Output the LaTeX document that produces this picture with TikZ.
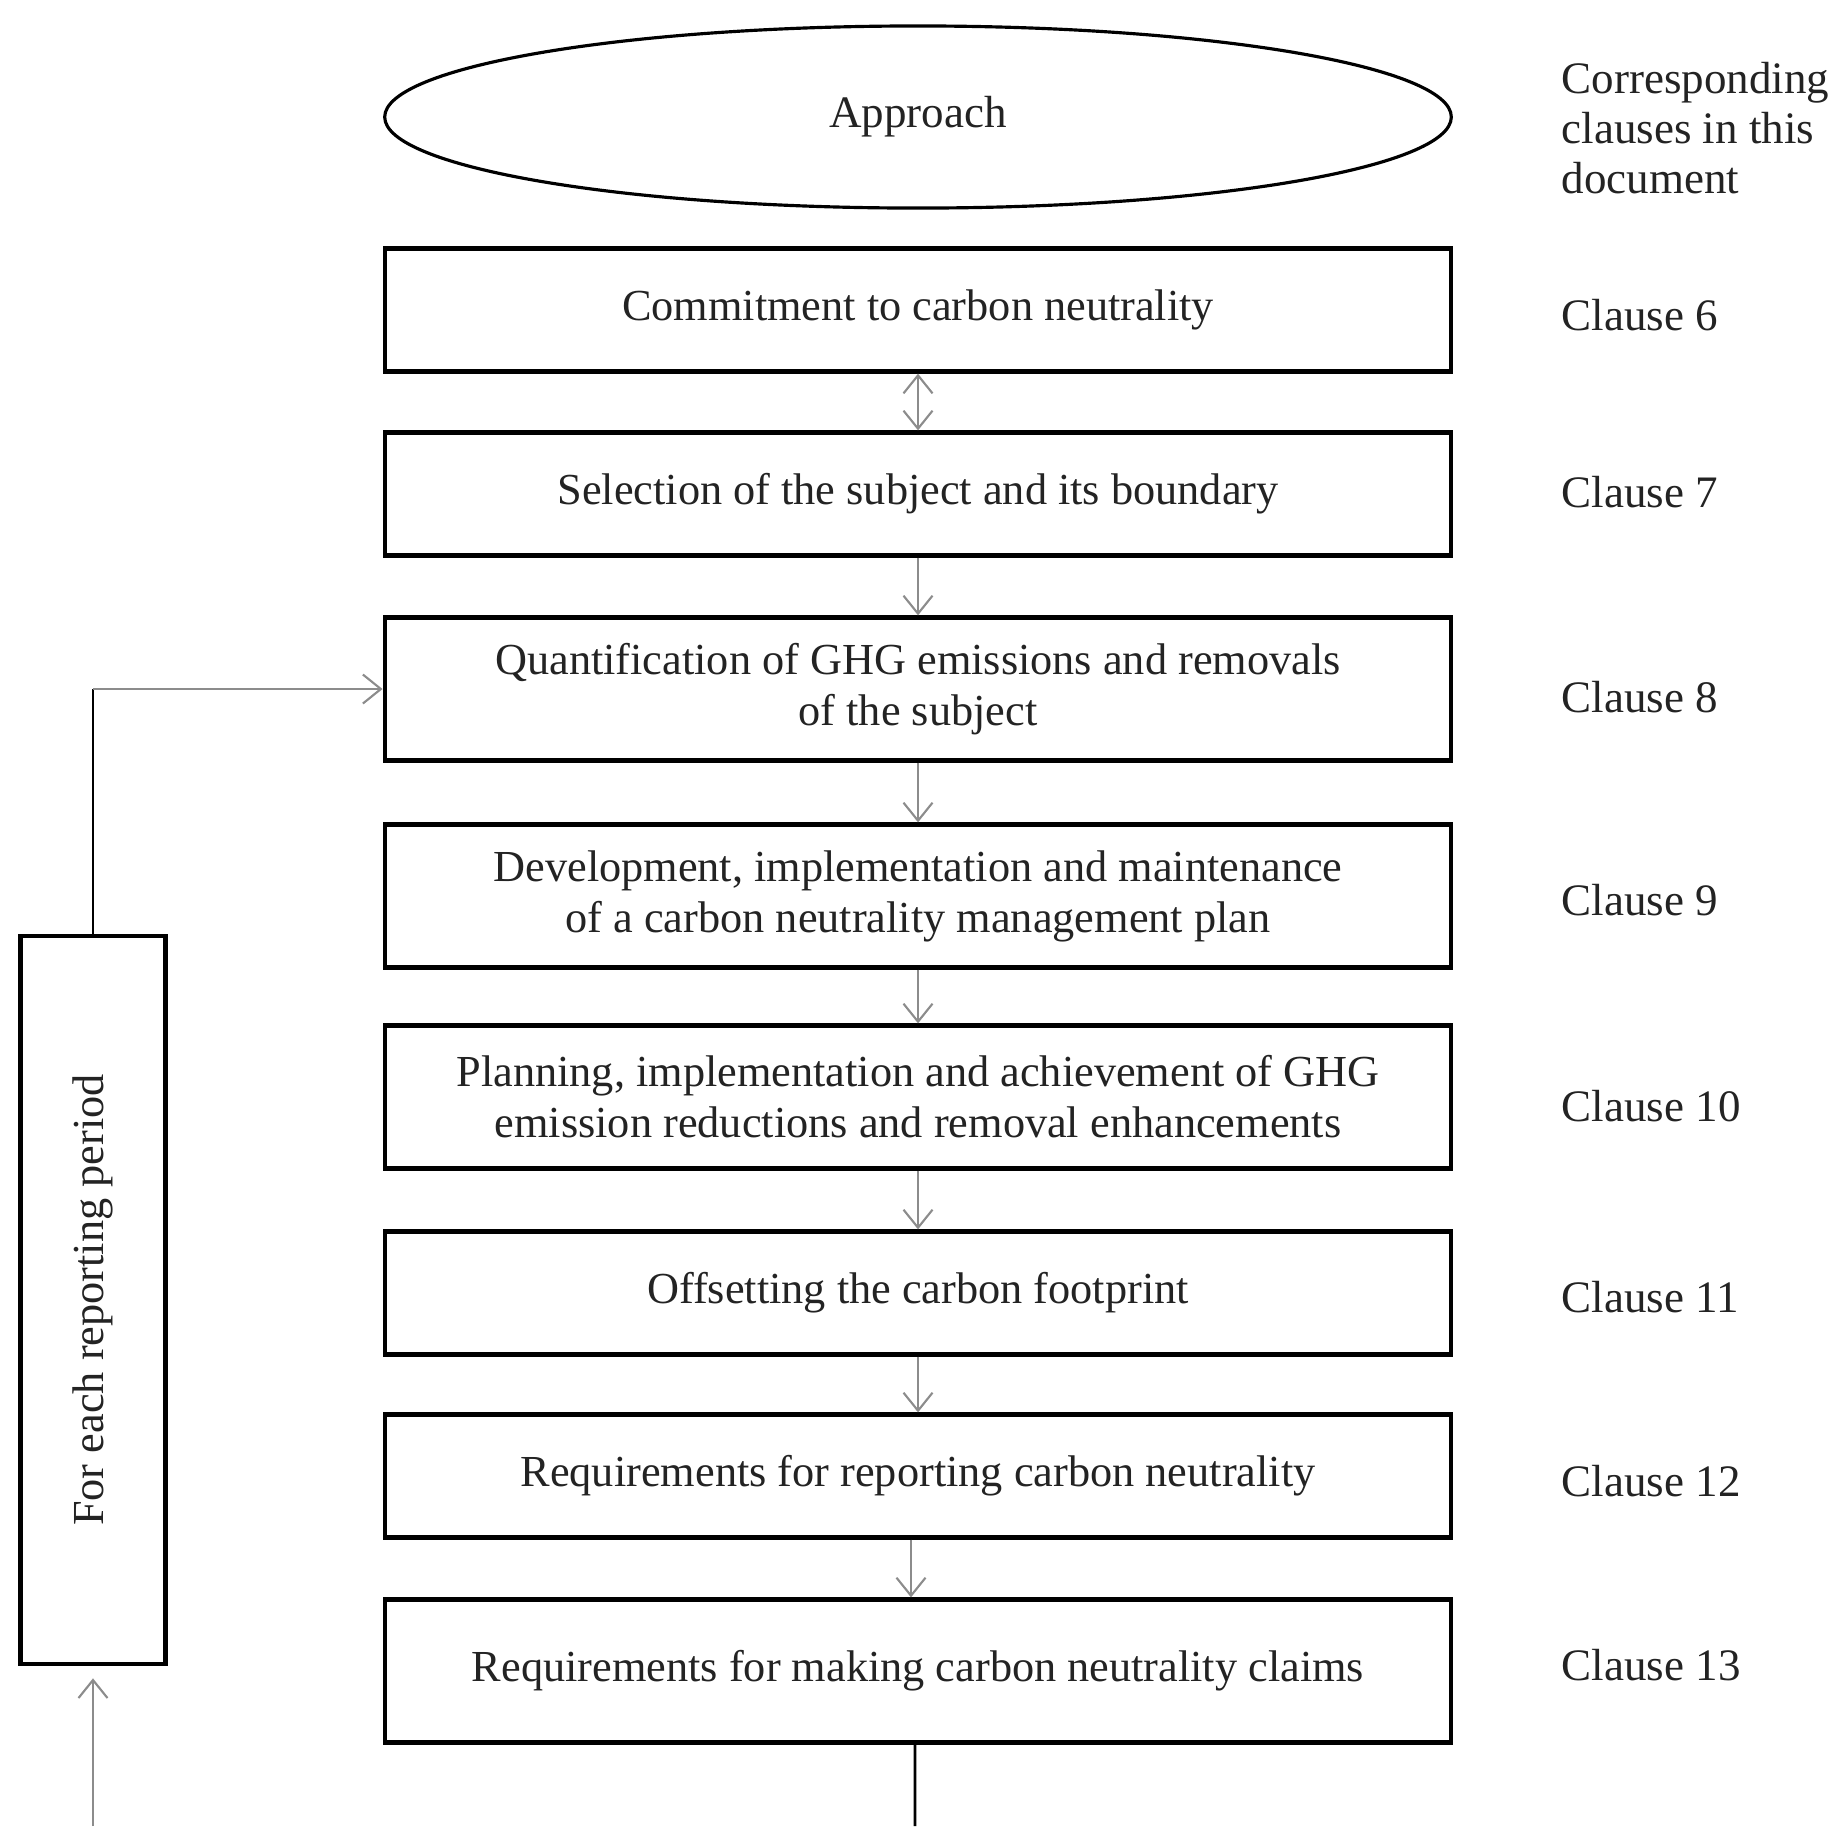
\documentclass[tikz,border=0pt]{standalone}
\usepackage{fontspec}
\setmainfont{Liberation Serif}
\usepackage{tikz}
\usetikzlibrary{shapes,arrows.meta,positioning,calc}
\usepackage{xcolor}
\definecolor{linegray}{RGB}{140,140,140}
\definecolor{textdark}{RGB}{35,35,35}

\begin{document}
\begin{tikzpicture}[
    x=0.01cm, y=-0.01cm,
    oval/.style={ellipse, draw=black, line width=0.9pt, inner sep=0pt,
                 minimum width=10.66cm, minimum height=1.82cm,
                 font=\fontsize{12.8}{14.3}\selectfont, text=textdark},
    stage/.style={rectangle, draw=black, line width=1.2pt, fill=white,
                  minimum width=10.66cm, minimum height=1.23cm, align=center,
                  font=\fontsize{12.6}{14.5}\selectfont, text=textdark},
    tall/.style={minimum height=1.43cm},
    clause/.style={anchor=west, align=left, inner sep=0pt,
                   font=\fontsize{12.8}{14.3}\selectfont, text=textdark},
    arr/.style={-{Straight Barb[length=1.8mm, width=2.9mm]}, linegray, line width=0.6pt},
    biarr/.style={arr, {Straight Barb[length=1.8mm, width=2.9mm]}-{Straight Barb[length=1.8mm, width=2.9mm]}},
    link/.style={black, line width=0.8pt}
]
    \useasboundingbox (0,0) rectangle (1831,1826);

    % main column
    \node[oval] (appr) at (918,117) {Approach};
    \node[stage] (b1) at (918,310) {Commitment to carbon neutrality};
    \node[stage] (b2) at (918,494) {Selection of the subject and its boundary};
    \node[stage, tall] (b3) at (918,689) {Quantification of GHG emissions and removals\\ of the subject};
    \node[stage, tall] (b4) at (918,896) {Development, implementation and maintenance\\ of a carbon neutrality management plan};
    \node[stage, tall] (b5) at (918,1097) {Planning, implementation and achievement of GHG\\ emission reductions and removal enhancements};
    \node[stage] (b6) at (918,1293) {Offsetting the carbon footprint};
    \node[stage] (b7) at (918,1476) {Requirements for reporting carbon neutrality};
    \node[stage, tall] (b8) at (918,1671) {Requirements for making carbon neutrality claims};

    % clause column
    \node[clause] (hdr) at (1561,128) {Corresponding\\ clauses in this\\ document};
    \node[clause] (c6) at (1561,315) {Clause 6};
    \node[clause] (c7) at (1561,492) {Clause 7};
    \node[clause] (c8) at (1561,697) {Clause 8};
    \node[clause] (c9) at (1561,900) {Clause 9};
    \node[clause] (c10) at (1561,1106) {Clause 10};
    \node[clause] (c11) at (1561,1297) {Clause 11};
    \node[clause] (c12) at (1561,1481) {Clause 12};
    \node[clause] (c13) at (1561,1665) {Clause 13};

    % reporting loop
    \node[stage, minimum width=1.45cm, minimum height=7.28cm] (period) at (93,1300)
        {\rotatebox{90}{For each reporting period}};
    \coordinate (bend) at (93,689);
    \coordinate (outB) at (915,1826);
    \coordinate (inB) at (93,1826);

    \draw[biarr] (b1) -- (b2);
    \draw[arr] (b2) -- (b3);
    \draw[arr] (b3) -- (b4);
    \draw[arr] (b4) -- (b5);
    \draw[arr] (b5) -- (b6);
    \draw[arr] (b6) -- (b7);
    \draw[arr] ([xshift=-0.07cm]b7.south) -- ([xshift=-0.07cm]b8.north);

    \draw[link] (period.north) -- (bend);
    \draw[arr] (bend) -- (b3.west);
    \draw[link] ([xshift=-0.03cm]b8.south) -- (outB);
    \draw[arr, shorten >=0.12cm] (inB) -- (period.south);
\end{tikzpicture}
\end{document}
